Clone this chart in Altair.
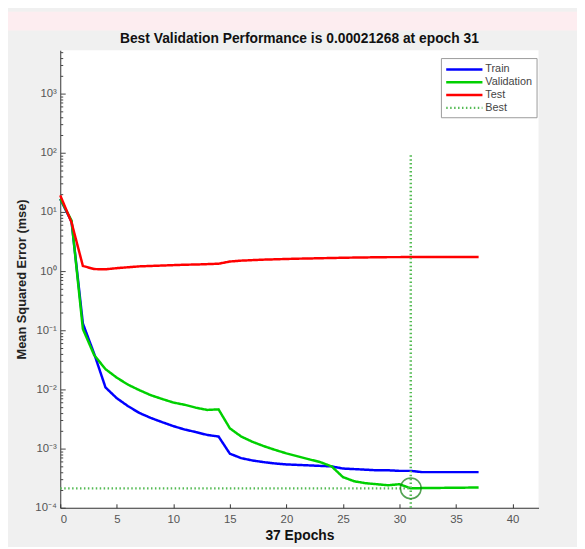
import altair as alt
import pandas as pd
import math

# ---------------- data ----------------
epochs = list(range(38))
train = [16.6, 6.8, 0.13, 0.040, 0.0108, 0.0071, 0.0052, 0.0040, 0.0033, 0.0028,
         0.0024, 0.0021, 0.0019, 0.0017, 0.0016, 0.00082, 0.00069, 0.00063, 0.00059, 0.00056,
         0.00054, 0.00053, 0.00052, 0.00051, 0.00050, 0.00046, 0.00045, 0.00044, 0.00043, 0.00043,
         0.00042, 0.00042, 0.00040, 0.00040, 0.00040, 0.00040, 0.00040, 0.00040]
validation = [16.6, 7.1, 0.105, 0.038, 0.022, 0.0158, 0.012, 0.0097, 0.0080, 0.0069,
              0.0060, 0.0055, 0.0049, 0.0045, 0.0046, 0.0022, 0.0016, 0.0013, 0.0011, 0.00095,
              0.00083, 0.00074, 0.00066, 0.00059, 0.00050, 0.00033, 0.00028, 0.00026, 0.00025, 0.00024,
              0.00025, 0.00021268, 0.000215, 0.000216, 0.000217, 0.000218, 0.000219, 0.00022]
test = [19.0, 6.6, 1.22, 1.08, 1.07, 1.12, 1.16, 1.20, 1.22, 1.24,
        1.26, 1.28, 1.29, 1.31, 1.33, 1.45, 1.50, 1.53, 1.56, 1.58,
        1.60, 1.62, 1.63, 1.65, 1.66, 1.68, 1.69, 1.70, 1.71, 1.72,
        1.72, 1.73, 1.73, 1.73, 1.73, 1.73, 1.73, 1.73]
best_epoch = 31
best_perf = 0.00021268
best_vline_top = 100.0
series_names = ["Train", "Validation", "Test", "Best"]
series_colors = ["#0000ff", "#00d000", "#ff0000", "#55bb55"]
x_ticks = [0, 5, 10, 15, 20, 25, 30, 35, 40]
y_major = [1e-4, 1e-3, 1e-2, 1e-1, 1e0, 1e1, 1e2, 1e3]
y_minor = [k * 10.0 ** e for e in range(-4, 4) for k in range(1, 10) if k * 10.0 ** e <= 5400]
y_labels = ["10⁻⁴", "10⁻³", "10⁻²", "10⁻¹", "10⁰", "10¹", "10²", "10³"]
x_max = 42.3
y_min, y_max = 1e-4, 5400
title_text = "Best Validation Performance is 0.00021268 at epoch 31"

# ---------------- build tables ----------------
rows = []
for name, vals in (("Train", train), ("Validation", validation), ("Test", test)):
    for i, (e, v) in enumerate(zip(epochs, vals)):
        rows.append({"series": name, "seg": name, "idx": i, "epoch": e, "mse": v})
rows += [
    {"series": "Best", "seg": "h", "idx": 0, "epoch": 0, "mse": best_perf},
    {"series": "Best", "seg": "h", "idx": 1, "epoch": best_epoch, "mse": best_perf},
    {"series": "Best", "seg": "v", "idx": 0, "epoch": best_epoch, "mse": y_min},
    {"series": "Best", "seg": "v", "idx": 1, "epoch": best_epoch, "mse": best_vline_top},
]
df = pd.DataFrame(rows)
best_df = pd.DataFrame({"epoch": [best_epoch], "mse": [best_perf]})

W, H = 485, 464
FONT = "Liberation Sans"

label_expr = ""
for v, lab in zip(y_major, y_labels):
    label_expr += f"abs(log(datum.value)/LN10 - ({math.log10(v):.0f})) < 0.01 ? '{lab}' : "
label_expr += "''"

xscale = alt.Scale(domain=[0, x_max], nice=False, zero=False)
yscale = alt.Scale(type="log", domain=[y_min, y_max], nice=False)

legend = alt.Legend(
    title=None, orient="none", legendX=386, legendY=8,
    fillColor="white", strokeColor="#9a9a9a", padding=4,
    symbolType="M-1,0H5", symbolSize=150, symbolStrokeWidth=2.5,
    labelOffset=26, labelFont=FONT, labelFontSize=11, labelColor="#444444",
    rowPadding=0,
)

lines = alt.Chart(df).mark_line().encode(
    x=alt.X("epoch:Q", scale=xscale,
            axis=alt.Axis(values=x_ticks, tickSize=0, labelPadding=6, labelFont=FONT,
                          labelFontSize=11.5, labelColor="#555555", domainColor="#333333",
                          grid=False, title="37 Epochs", titleFont=FONT, titleFontSize=14,
                          titleFontWeight="bold", titleColor="#111111", titlePadding=4)),
    y=alt.Y("mse:Q", scale=yscale,
            axis=alt.Axis(values=y_major, labelExpr=label_expr, tickSize=0, labelPadding=4,
                          labelFont=FONT, labelFontSize=11.5, labelColor="#555555",
                          domainColor="#333333", grid=False,
                          title="Mean Squared Error  (mse)", titleFont=FONT, titleFontSize=13,
                          titleFontWeight="bold", titleColor="#222222", titlePadding=7)),
    color=alt.Color("series:N", scale=alt.Scale(domain=series_names, range=series_colors),
                    legend=legend),
    strokeDash=alt.StrokeDash("series:N",
                              scale=alt.Scale(domain=series_names,
                                              range=[[1, 0], [1, 0], [1, 0], [1.5, 2.5]]),
                              legend=legend),
    strokeWidth=alt.StrokeWidth("series:N",
                                scale=alt.Scale(domain=series_names, range=[2.5, 2.5, 2.5, 1.2]),
                                legend=None),
    detail="seg:N",
    order="idx:Q",
)

major_test = "abs(log(datum.value)/LN10 - round(log(datum.value)/LN10)) < 0.01"
circle = alt.Chart(best_df).mark_point(shape="circle", size=440, filled=False,
                                       color="#0b7d0b", strokeWidth=1.6).encode(
    x=alt.X("epoch:Q", scale=xscale,
            axis=alt.Axis(orient="top", offset=-H, values=x_ticks, labels=False, domain=False,
                          tickSize=4, tickColor="#333333", grid=False, title=None)),
    y=alt.Y("mse:Q", scale=yscale,
            axis=alt.Axis(orient="right", offset=-W, values=y_minor, labels=False, domain=False,
                          tickSize={"condition": {"test": major_test, "value": 5}, "value": 2.5},
                          tickColor="#444444", grid=False, title=None)),
)

band = alt.Chart(alt.Data(values=[{}])).mark_rect(color="#fdedf0").encode(
    x=alt.value(-53), x2=alt.value(W + 39), y=alt.value(-39), y2=alt.value(-20)
)

chart = alt.layer(band, lines, circle).resolve_axis(x="independent", y="independent").properties(
    width=W, height=H,
    title=alt.TitleParams(title_text, font=FONT, fontSize=14, fontWeight="bold",
                          color="#111111", offset=-35, anchor="middle", frame="group"),
    background="#f0f0f0",
    padding={"left": 0, "top": 0, "right": 0, "bottom": 0},
).configure_view(fill="white", stroke=None)

chart.save("out.html", embed_options={"renderer": "svg", "actions": False})
